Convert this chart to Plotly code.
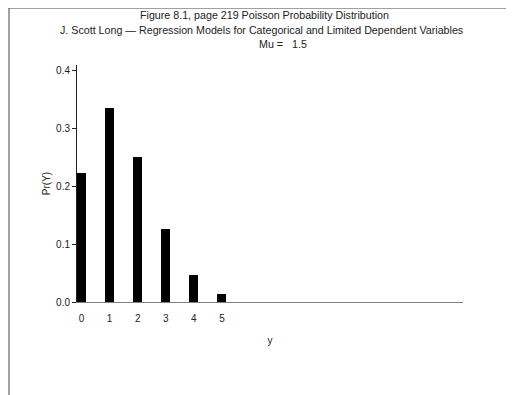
import plotly.graph_objects as go

# Data
y_values = [0, 1, 2, 3, 4, 5]
pr_values = [0.2231, 0.3347, 0.2510, 0.1255, 0.0471, 0.0141]
y_ticks = [0.0, 0.1, 0.2, 0.3, 0.4]
y_tick_labels = ["0.0", "0.1", "0.2", "0.3", "0.4"]
title_lines = [
    "Figure 8.1, page 219 Poisson Probability Distribution",
    "J. Scott Long \u2014 Regression Models for Categorical and Limited Dependent Variables",
    "Mu =\u00a0\u00a0 1.5",
]

W, H = 514, 395
# page body has an 8px margin, so figure coords = screen coords - 8
L, R, T, B = 69, 59, 57, 101
plot_w = W - L - R
plot_h = H - T - B

FONT = "Liberation Sans, Arial, sans-serif"
TXT = "#222222"

fig = go.Figure()
fig.add_trace(go.Bar(
    x=y_values, y=pr_values, width=0.32,
    marker=dict(color="black", line=dict(width=0)),
    showlegend=False,
))

def px_to_paper_x(px):
    return (px - L) / plot_w

def px_to_paper_y(py):
    return (H - B - py) / plot_h

annotations = []
for line, ypx, xpx in zip(title_lines, [7, 22, 36], [256, 253, 275]):
    annotations.append(dict(
        text=line, x=px_to_paper_x(xpx), y=px_to_paper_y(ypx),
        xref="paper", yref="paper", showarrow=False,
        xanchor="center", yanchor="middle",
        font=dict(family=FONT, size=10.7, color=TXT),
    ))

shapes = [
    dict(type="line", xref="paper", yref="paper",
         x0=px_to_paper_x(1), x1=px_to_paper_x(1),
         y0=px_to_paper_y(0), y1=px_to_paper_y(H + 2),
         line=dict(color="#444444", width=1)),
    dict(type="line", xref="paper", yref="paper",
         x0=px_to_paper_x(1), x1=px_to_paper_x(W + 2),
         y0=px_to_paper_y(0), y1=px_to_paper_y(0),
         line=dict(color="#444444", width=1)),
]

fig.update_layout(
    width=W, height=H,
    margin=dict(l=L, r=R, t=T, b=B, autoexpand=False),
    plot_bgcolor="white", paper_bgcolor="white",
    font=dict(family=FONT, size=10, color=TXT),
    bargap=0,
    annotations=annotations,
    shapes=shapes,
    xaxis=dict(
        range=[-0.16, 13.58],
        tickmode="array", tickvals=y_values, ticktext=[str(v) for v in y_values],
        ticks="outside", ticklen=7, tickcolor="rgba(0,0,0,0)",
        showgrid=False, zeroline=False,
        showline=True, linecolor="#808080", linewidth=1,
        tickfont=dict(family=FONT, size=10, color=TXT),
        title=dict(text="y", standoff=13, font=dict(family=FONT, size=10, color=TXT)),
    ),
    yaxis=dict(
        range=[0, 0.409],
        tickmode="array", tickvals=y_ticks, ticktext=y_tick_labels,
        ticks="outside", ticklen=4, tickcolor="#222222", tickwidth=1,
        showgrid=False, zeroline=False,
        showline=True, linecolor="#222222", linewidth=1,
        tickfont=dict(family=FONT, size=10, color=TXT),
        title=dict(text="Pr(Y)", standoff=3, font=dict(family=FONT, size=10, color=TXT)),
    ),
)

fig.write_html("out.html")
